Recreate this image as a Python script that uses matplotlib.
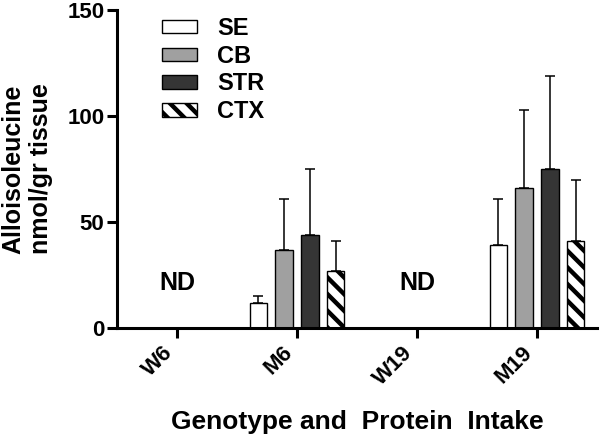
import numpy as np
import matplotlib
matplotlib.use("Agg")
import matplotlib.pyplot as plt

plt.rcParams['font.family'] = ['Liberation Sans', 'DejaVu Sans']
plt.rcParams['font.weight'] = 'bold'
plt.rcParams['axes.labelweight'] = 'bold'
plt.rcParams['hatch.linewidth'] = 3.2

# groups on x axis (W = wild type, M = mutant; 6 / 19 = protein intake)
groups = ["W6", "M6", "W19", "M19"]
tissues = ["SE", "CB", "STR", "CTX"]

# alloisoleucine (nmol/gr tissue), nan = not detected
means = {
    "SE":  [np.nan, 12, np.nan, 39],
    "CB":  [np.nan, 37, np.nan, 66],
    "STR": [np.nan, 44, np.nan, 75],
    "CTX": [np.nan, 27, np.nan, 41],
}
# upper error (SD)
errs = {
    "SE":  [np.nan, 3, np.nan, 22],
    "CB":  [np.nan, 24, np.nan, 37],
    "STR": [np.nan, 31, np.nan, 44],
    "CTX": [np.nan, 14, np.nan, 29],
}
nd_groups = ["W6", "W19"]

face = {"SE": "white", "CB": "#a0a0a0", "STR": "#353535", "CTX": "white"}
hatch = {"SE": None, "CB": None, "STR": None, "CTX": "\\\\"}

fig = plt.figure(figsize=(6, 4.38), dpi=100)
ax = fig.add_axes([117/600, 1 - 328/438, 480/600, 318/438])

x = np.arange(len(groups))
step = 0.215
width = 0.145
for i, t in enumerate(tissues):
    pos = x + (i - 1.5) * step
    ax.bar(pos, means[t], width, color=face[t], edgecolor='black',
           linewidth=1.0, hatch=hatch[t], label=t, zorder=2)
    ax.errorbar(pos, means[t], yerr=[np.zeros(len(groups)), errs[t]],
                fmt='none', ecolor='black', elinewidth=1.1, capsize=3.6,
                capthick=1.1, zorder=1)

for g in nd_groups:
    ax.text(groups.index(g), 21, "ND", ha='center', va='center',
            fontsize=18, fontweight='bold')

ax.set_xlim(-0.5, 3.5)
ax.set_ylim(0, 150)
ax.set_yticks([0, 50, 100, 150])
ax.set_xticks(x)
ax.set_xticklabels(groups, rotation=45, ha='right', fontsize=16)
ax.tick_params(axis='y', labelsize=16, width=2.2, length=7, pad=2)
ax.tick_params(axis='x', width=2.2, length=7, pad=3)

for s in ['top', 'right']:
    ax.spines[s].set_visible(False)
for s in ['left', 'bottom']:
    ax.spines[s].set_linewidth(2.2)

ax.set_xlabel("Genotype and  Protein  Intake", fontsize=19, labelpad=15)
ax.set_ylabel("Alloisoleucine\nnmol/gr tissue", fontsize=18,
              multialignment='center')
ax.yaxis.label.set_va('center')
ax.yaxis.set_label_coords(-0.1875, 0.5)

leg = ax.legend(loc='upper left', bbox_to_anchor=(162/600, 1 - 17/438),
                bbox_transform=fig.transFigure, frameon=False, fontsize=17,
                handlelength=1.48, handleheight=0.5, handletextpad=0.85,
                labelspacing=0.2, borderpad=0, borderaxespad=0)

fig.savefig("out.png", dpi=100)
